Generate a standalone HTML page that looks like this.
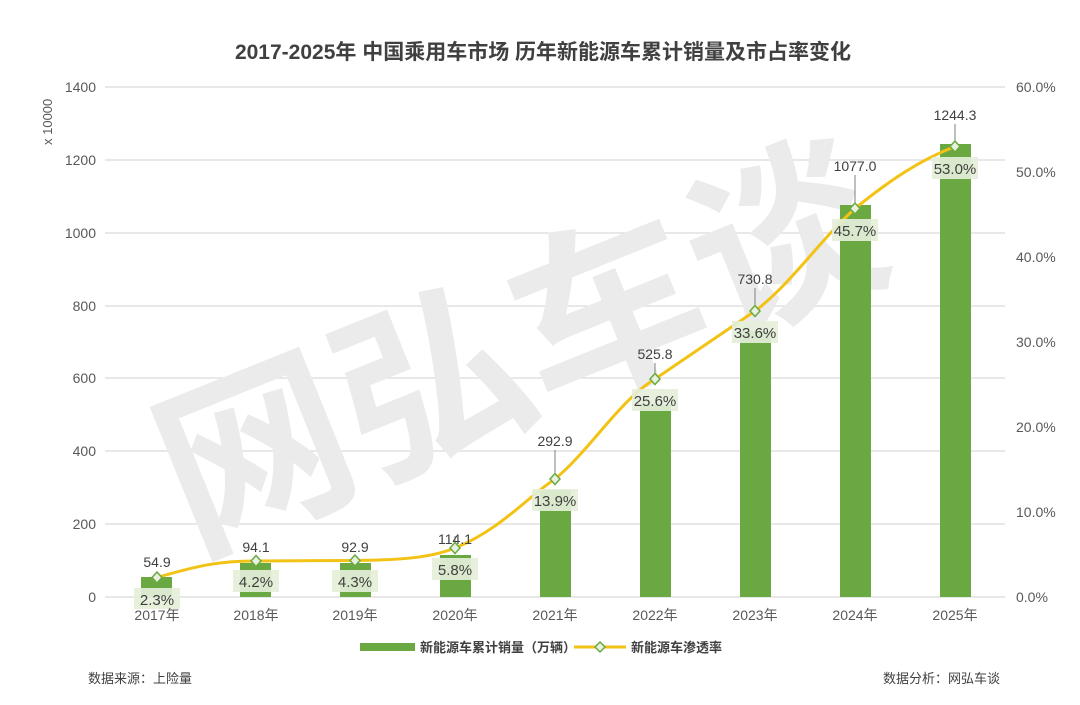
<!DOCTYPE html>
<html><head><meta charset="utf-8"><style>
body{margin:0;background:#fff}
svg text{font-family:"Liberation Sans","Noto Sans CJK SC",sans-serif}
</style></head><body>
<svg width="1080" height="700" viewBox="0 0 1080 700" xmlns="http://www.w3.org/2000/svg">
<rect width="1080" height="700" fill="#fff"/>
<text x="543" y="59" text-anchor="middle" font-size="21" font-weight="bold" fill="#404040">2017-2025年 中国乘用车市场 历年新能源车累计销量及市占率变化</text>
<g stroke="#d9d9d9" stroke-width="1.3">
<line x1="105" x2="1005" y1="87" y2="87"/><line x1="105" x2="1005" y1="160" y2="160"/>
<line x1="105" x2="1005" y1="233" y2="233"/><line x1="105" x2="1005" y1="306" y2="306"/>
<line x1="105" x2="1005" y1="378" y2="378"/><line x1="105" x2="1005" y1="451" y2="451"/>
<line x1="105" x2="1005" y1="524" y2="524"/><line x1="105" x2="1005" y1="597" y2="597"/>
</g>
<g font-size="14" fill="#595959" text-anchor="end">
<text x="96" y="92">1400</text><text x="96" y="165">1200</text><text x="96" y="238">1000</text>
<text x="96" y="311">800</text><text x="96" y="383">600</text><text x="96" y="456">400</text>
<text x="96" y="529">200</text><text x="96" y="602">0</text>
</g>
<text transform="translate(52,145) rotate(-90)" font-size="13" fill="#595959">x 10000</text>
<g font-size="14" fill="#595959">
<text x="1016" y="92">60.0%</text><text x="1016" y="177">50.0%</text><text x="1016" y="262">40.0%</text>
<text x="1016" y="347">30.0%</text><text x="1016" y="432">20.0%</text><text x="1016" y="517">10.0%</text>
<text x="1016" y="602">0.0%</text>
</g>
<text transform="translate(545,410) rotate(-22)" text-anchor="middle" font-size="190" font-weight="bold" fill="#ebebeb">网弘车谈</text>
<g fill="#6aa942">
<rect x="141" y="577" width="31" height="20"/><rect x="240" y="563" width="31" height="34"/>
<rect x="340" y="563" width="31" height="34"/><rect x="440" y="555" width="31" height="42"/>
<rect x="540" y="490" width="31" height="107"/><rect x="640" y="405" width="31" height="192"/>
<rect x="740" y="331" width="31" height="266"/><rect x="840" y="205" width="31" height="392"/>
<rect x="940" y="144" width="31" height="453"/>
</g>
<path d="M157,577.5 C200,565 220,561 256,561 C300,561 320,560.5 355,560.5 C400,560 430,558 455,548 C500,530 530,495 555,479 C590,450 620,400 655,379 C690,355 720,335 755,311 C790,285 820,240 855,208.5 C890,180 920,160 955,146.5" fill="none" stroke="#f2c215" stroke-width="3"/>
<g stroke="#7f7f7f" stroke-width="1">
<line x1="455" y1="543" x2="455" y2="536"/><line x1="555" y1="474" x2="555" y2="450"/>
<line x1="655" y1="374" x2="655" y2="363"/><line x1="755" y1="306" x2="755" y2="288"/>
<line x1="855" y1="203" x2="855" y2="175"/><line x1="955" y1="141" x2="955" y2="124"/>
</g>
<g fill="#e8f1de" stroke="#6aa942" stroke-width="1.5">
<path d="M157,572l5,5.5l-5,5.5l-5,-5.5z"/><path d="M256,555.5l5,5.5l-5,5.5l-5,-5.5z"/>
<path d="M355,555l5,5.5l-5,5.5l-5,-5.5z"/><path d="M455,542.5l5,5.5l-5,5.5l-5,-5.5z"/>
<path d="M555,473.5l5,5.5l-5,5.5l-5,-5.5z"/><path d="M655,373.5l5,5.5l-5,5.5l-5,-5.5z"/>
<path d="M755,305.5l5,5.5l-5,5.5l-5,-5.5z"/><path d="M855,203l5,5.5l-5,5.5l-5,-5.5z"/>
<path d="M955,141l5,5.5l-5,5.5l-5,-5.5z"/>
</g>
<g fill="#e4efd9" opacity="0.92">
<rect x="134" y="588" width="46" height="21"/><rect x="233" y="570" width="46" height="22"/>
<rect x="332" y="570" width="46" height="22"/><rect x="432" y="558" width="46" height="22"/>
<rect x="532" y="489" width="46" height="22"/><rect x="632" y="389" width="46" height="22"/>
<rect x="732" y="321" width="46" height="22"/><rect x="832" y="219" width="46" height="22"/>
<rect x="932" y="157" width="46" height="22"/>
</g>
<g font-size="15" fill="#404040" text-anchor="middle">
<text x="157" y="605">2.3%</text><text x="256" y="587">4.2%</text><text x="355" y="587">4.3%</text>
<text x="455" y="575">5.8%</text><text x="555" y="506">13.9%</text><text x="655" y="406">25.6%</text>
<text x="755" y="338">33.6%</text><text x="855" y="236">45.7%</text><text x="955" y="174">53.0%</text>
</g>
<g font-size="14" fill="#404040" text-anchor="middle">
<text x="157" y="567">54.9</text><text x="256" y="552">94.1</text><text x="355" y="552">92.9</text>
<text x="455" y="544">114.1</text><text x="555" y="446">292.9</text><text x="655" y="359">525.8</text>
<text x="755" y="284">730.8</text><text x="855" y="171">1077.0</text><text x="955" y="120">1244.3</text>
</g>
<g font-size="14" fill="#595959" text-anchor="middle">
<text x="157" y="620">2017年</text><text x="256" y="620">2018年</text><text x="355" y="620">2019年</text>
<text x="455" y="620">2020年</text><text x="555" y="620">2021年</text><text x="655" y="620">2022年</text>
<text x="755" y="620">2023年</text><text x="855" y="620">2024年</text><text x="955" y="620">2025年</text>
</g>
<rect x="360" y="643" width="55" height="8" fill="#6aa942"/>
<text x="420" y="652" font-size="13" font-weight="bold" fill="#404040">新能源车累计销量（万辆）</text>
<line x1="574" y1="647" x2="626" y2="647" stroke="#f2c215" stroke-width="3"/>
<path d="M600,642l5,5l-5,5l-5,-5z" fill="#e8f1de" stroke="#6aa942" stroke-width="1.5"/>
<text x="631" y="652" font-size="13" font-weight="bold" fill="#404040">新能源车渗透率</text>
<text x="88" y="683" font-size="13" fill="#404040">数据来源：上险量</text>
<text x="1000" y="683" font-size="13" fill="#404040" text-anchor="end">数据分析：网弘车谈</text>
</svg>
</body></html>
